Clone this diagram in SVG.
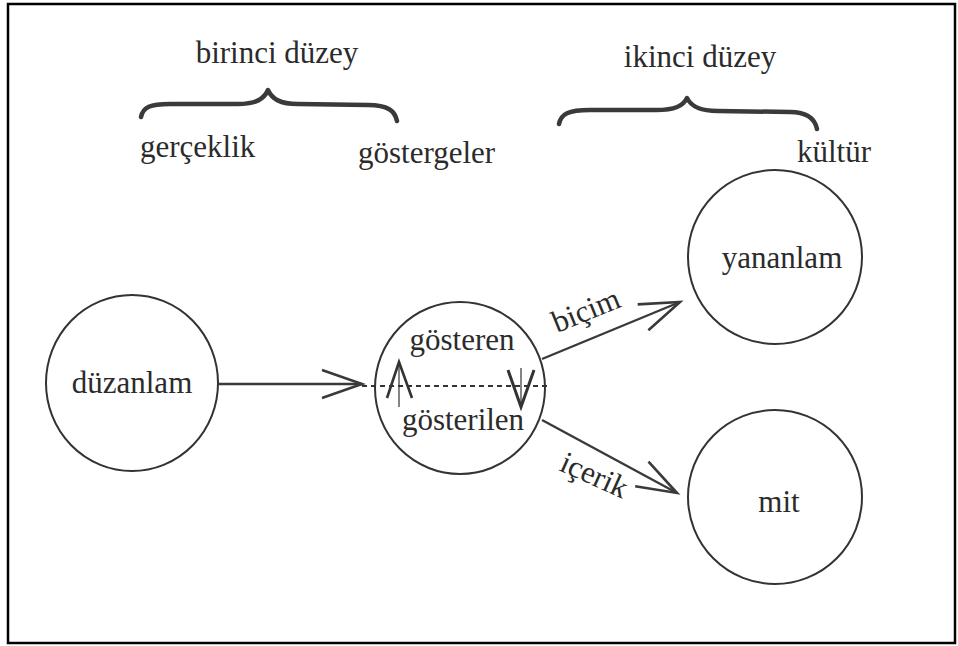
<svg xmlns="http://www.w3.org/2000/svg" width="958" height="646" viewBox="0 0 958 646">
  <style>
    text { font-family: "Liberation Serif", "Times New Roman", serif; font-size: 31px; fill: #2b2b2b; }
    .mid { text-anchor: middle; }
    .node { fill: none; stroke: #333; stroke-width: 2; }
    .edge { fill: none; stroke: #3a3a3a; stroke-width: 2.4; }
    .brace { fill: none; stroke: #3a3a3a; stroke-width: 4.5; stroke-linecap: round; stroke-linejoin: round; }
  </style>
  <defs>
    <marker id="chev" markerUnits="userSpaceOnUse" orient="auto" markerWidth="50" markerHeight="40" refX="0" refY="0" viewBox="-44 -20 48 40" overflow="visible">
      <path d="M-40,-14 L0,0 L-40,14" fill="none" stroke="#3a3a3a" stroke-width="2.6" stroke-linejoin="miter"/>
    </marker>
  </defs>
  <rect x="0" y="0" width="958" height="646" fill="#ffffff"/>
  <rect x="8" y="4" width="947" height="639" fill="none" stroke="#000" stroke-width="2.5"/>

  <g id="labels">
    <text class="mid" x="277" y="63">birinci düzey</text>
    <text class="mid" x="700" y="67">ikinci düzey</text>
    <text x="140" y="157">gerçeklik</text>
    <text x="358" y="163">göstergeler</text>
    <text x="797" y="162">kültür</text>
  </g>

  <g id="braces">
    <path class="brace" d="M141,117 C143,107 150,104 170,104 L238,104 C256,104 264,99 268,90 C272,99 280,104 298,104 L368,105 C388,105 395,111 397,121"/>
    <path class="brace" d="M559,124 C561,114 568,110 590,110 L656,110 C675,110 683,106 687,98 C691,106 699,111 718,111 L790,112 C808,112 815,119 817,129"/>
  </g>

  <g id="duzanlam">
    <ellipse class="node" cx="132" cy="383" rx="86" ry="88"/>
    <text class="mid" x="132" y="393">düzanlam</text>
  </g>

  <g id="gosteren">
    <ellipse class="node" cx="460" cy="388" rx="85" ry="86"/>
    <text class="mid" x="462" y="350">gösteren</text>
    <text class="mid" x="463" y="430">gösterilen</text>
    <line x1="362" y1="386" x2="551" y2="386" stroke="#333" stroke-width="2" stroke-dasharray="5,4"/>
    <path d="M387,398 L399,362 L412,398" fill="none" stroke="#333" stroke-width="2.6"/>
    <line x1="399" y1="366" x2="399" y2="407" stroke="#333" stroke-width="1.2"/>
    <path d="M508,370 L521,407 L534,370" fill="none" stroke="#333" stroke-width="3"/>
    <line x1="521" y1="368" x2="521" y2="404" stroke="#333" stroke-width="1.2"/>
  </g>

  <g id="yananlam">
    <ellipse class="node" cx="775" cy="257" rx="87" ry="87"/>
    <text class="mid" x="782" y="268">yananlam</text>
  </g>

  <g id="mit">
    <ellipse class="node" cx="775" cy="497" rx="87" ry="87"/>
    <text class="mid" x="779" y="512">mit</text>
  </g>

  <g id="connectors">
    <line class="edge" x1="218" y1="384" x2="362" y2="384" marker-end="url(#chev)"/>
    <line class="edge" x1="542" y1="359" x2="680" y2="302" marker-end="url(#chev)"/>
    <line class="edge" x1="542" y1="420" x2="677" y2="493" marker-end="url(#chev)"/>
    <text x="557" y="333" transform="rotate(-22 557 333)">biçim</text>
    <text x="558" y="470" transform="rotate(24 558 470)">içerik</text>
  </g>
</svg>
